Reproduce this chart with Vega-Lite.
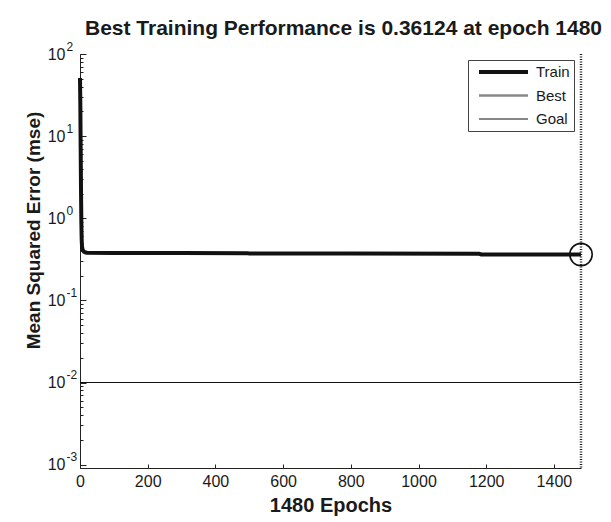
{
  "$schema": "https://vega.github.io/schema/vega-lite/v6.json",
  "width": 501,
  "height": 414,
  "autosize": {"type": "none"},
  "padding": {"left": 80, "top": 54, "right": 30, "bottom": 54},
  "background": "white",
  "config": {
    "font": "Liberation Sans",
    "view": {"stroke": null},
    "axis": {"grid": false, "domainColor": "#222", "tickColor": "#222", "labelColor": "#1a1a1a", "titleColor": "#1a1a1a", "labelFlush": false, "labelOverlap": false}
  },
  "title": {
    "text": "Best Training Performance is 0.36124 at epoch 1480",
    "fontSize": 21,
    "fontWeight": "bold",
    "color": "#1a1a1a",
    "anchor": "middle",
    "dx": 13,
    "baseline": "alphabetic",
    "offset": -16
  },
  "datasets": {
    "train": [
      {"series": "Train", "epoch": 0, "mse": 51},
      {"series": "Train", "epoch": 1, "mse": 24},
      {"series": "Train", "epoch": 2, "mse": 7},
      {"series": "Train", "epoch": 3, "mse": 2.2},
      {"series": "Train", "epoch": 4, "mse": 0.9},
      {"series": "Train", "epoch": 5, "mse": 0.55},
      {"series": "Train", "epoch": 6, "mse": 0.45},
      {"series": "Train", "epoch": 8, "mse": 0.41},
      {"series": "Train", "epoch": 12, "mse": 0.39},
      {"series": "Train", "epoch": 20, "mse": 0.38},
      {"series": "Train", "epoch": 100, "mse": 0.378},
      {"series": "Train", "epoch": 300, "mse": 0.377},
      {"series": "Train", "epoch": 494, "mse": 0.376},
      {"series": "Train", "epoch": 500, "mse": 0.372},
      {"series": "Train", "epoch": 800, "mse": 0.371},
      {"series": "Train", "epoch": 1180, "mse": 0.369},
      {"series": "Train", "epoch": 1186, "mse": 0.362},
      {"series": "Train", "epoch": 1300, "mse": 0.3615},
      {"series": "Train", "epoch": 1480, "mse": 0.36124}
    ],
    "goal": [{"series": "Goal", "mse": 0.01}],
    "best": [{"series": "Best", "epoch": 1480, "mse": 0.36124}]
  },
  "layer": [
    {
      "data": {"name": "goal"},
      "mark": {"type": "rule"},
      "encoding": {
        "y": {
          "field": "mse", "type": "quantitative",
          "scale": {"type": "log", "domain": [0.00091, 100], "nice": false},
          "axis": {
            "orient": "left",
            "values": [0.001, 0.01, 0.1, 1, 10, 100],
            "labelExpr": "'10'",
            "tickSize": -6,
            "labelPadding": 21,
            "labelFontSize": 16,
            "title": "Mean Squared Error  (mse)",
            "titleFontSize": 19,
            "titleFontWeight": "bold",
            "titleX": -41,
            "titleY": 176,
            "titleBaseline": "alphabetic",
            "titleAngle": 270
          }
        },
        "color": {
          "field": "series", "type": "nominal",
          "scale": {"domain": ["Train", "Best", "Goal"], "range": ["#111111", "#888888", "#111111"]},
          "legend": {
            "title": null, "orient": "none", "legendX": 388, "legendY": 6,
            "strokeColor": "#444", "fillColor": "white", "padding": 4,
            "symbolType": "stroke", "symbolSize": 2401, "clipHeight": 16,
            "rowPadding": 7.5, "symbolOffset": 5, "labelOffset": 6,
            "labelFontSize": 15, "labelColor": "#1a1a1a"
          }
        },
        "strokeWidth": {
          "field": "series", "type": "nominal",
          "scale": {"domain": ["Train", "Best", "Goal"], "range": [4, 1, 1]},
          "legend": {
            "title": null, "orient": "none", "legendX": 388, "legendY": 6,
            "strokeColor": "#444", "fillColor": "white", "padding": 4,
            "symbolType": "stroke", "symbolSize": 2401, "clipHeight": 16,
            "rowPadding": 7.5, "symbolOffset": 5, "labelOffset": 6,
            "labelFontSize": 15, "labelColor": "#1a1a1a"
          }
        }
      }
    },
    {
      "data": {"name": "best"},
      "mark": {"type": "rule", "strokeDash": [1, 1.5], "color": "#222"},
      "encoding": {
        "x": {
          "field": "epoch", "type": "quantitative",
          "scale": {"domain": [0, 1480], "nice": false},
          "axis": {
            "values": [0, 200, 400, 600, 800, 1000, 1200, 1400],
            "format": "d",
            "tickSize": -4,
            "labelPadding": 9,
            "labelFontSize": 16,
            "title": "1480 Epochs",
            "titleFontSize": 20,
            "titleFontWeight": "bold",
            "titlePadding": 6
          }
        },
        "strokeWidth": {"field": "series", "type": "nominal"}
      }
    },
    {
      "data": {"name": "train"},
      "mark": {"type": "line", "strokeJoin": "round"},
      "encoding": {
        "x": {"field": "epoch", "type": "quantitative"},
        "y": {
          "field": "mse", "type": "quantitative",
          "axis": {
            "orient": "left",
            "values": [0.002,0.003,0.004,0.005,0.006,0.007,0.008,0.009,0.02,0.03,0.04,0.05,0.06,0.07,0.08,0.09,0.2,0.3,0.4,0.5,0.6,0.7,0.8,0.9,2,3,4,5,6,7,8,9,20,30,40,50,60,70,80,90],
            "tickSize": -3,
            "labels": false,
            "title": null
          }
        },
        "color": {"field": "series", "type": "nominal"},
        "strokeWidth": {"field": "series", "type": "nominal"}
      }
    },
    {
      "data": {"name": "best"},
      "mark": {"type": "point", "shape": "circle", "size": 500, "filled": false, "stroke": "#111111", "strokeWidth": 1.6, "opacity": 1},
      "encoding": {
        "x": {"field": "epoch", "type": "quantitative"},
        "y": {
          "field": "mse", "type": "quantitative",
          "axis": {
            "orient": "left",
            "values": [0.001, 0.01, 0.1, 1, 10, 100],
            "labelExpr": "'' + round(log(datum.value)/LN10)",
            "ticks": false,
            "domain": false,
            "labelAlign": "left",
            "labelPadding": 14,
            "labelOffset": -8,
            "labelFontSize": 12,
            "title": null
          }
        }
      }
    }
  ],
  "resolve": {"axis": {"y": "independent"}}
}
